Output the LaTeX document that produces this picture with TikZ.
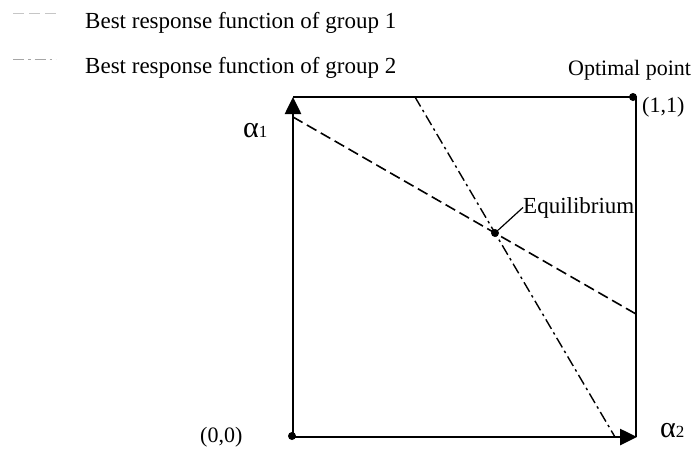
\documentclass[tikz,border=0pt]{standalone}
\usepackage{fontspec}
\setmainfont{Liberation Serif}
\usetikzlibrary{arrows.meta, positioning}

\begin{document}
\begin{tikzpicture}[x=1pt,y=-1pt,
  axis/.style={line width=2.6pt,-{Triangle[length=17pt,width=16pt]}},
  frame/.style={line width=1.4pt},
  brone/.style={line width=1.6pt,dash pattern=on 11pt off 5pt},
  brtwo/.style={line width=1.4pt,dash pattern=on 11pt off 4pt on 2.5pt off 4pt},
  dot/.style={circle,fill,inner sep=0pt,minimum size=8pt},
  lbl/.style={anchor=base west,inner sep=0pt,font=\fontsize{22}{24}\selectfont},
  greek/.style={anchor=base west,inner sep=0pt}]
  \useasboundingbox (0,0) rectangle (697,448);
  % legend
  \draw[brone,gray!45,line width=1pt] (13,13) -- (60,13);
  \draw[brtwo,gray!70,line width=1pt] (13,59) -- (56,59);
  \node[lbl,font=\fontsize{23}{25}\selectfont] (leg1) at (85,28) {Best response function of group 1};
  \node[lbl,font=\fontsize{23}{25}\selectfont] (leg2) at (85,73) {Best response function of group 2};
  % square and axes
  \coordinate (o) at (293,437);
  \coordinate (top) at (293,97);
  \coordinate (corner) at (636,97);
  \coordinate (bottom) at (636,437);
  \coordinate (right) at (637,437);
  \draw[frame] (top) -- (corner) -- (bottom);
  \draw[axis] (o) -- (top);
  \draw[axis] (o) -- (right);
  \node[dot] (origin) at (292,436) {};
  \node[dot] (opt) at (633,97) {};
  % best responses
  \coordinate (a1) at (293,117);
  \coordinate (a2) at (636,314);
  \coordinate (b1) at (415,97);
  \coordinate (b2) at (615,437);
  \draw[brone] (a1) -- (a2);
  \draw[brtwo] (b1) -- (b2);
  \node[dot] (eq) at (495,233) {};
  \node[lbl,font=\fontsize{23}{25}\selectfont] (eqlbl) at (523,213) {Equilibrium};
  \draw[line width=1.2pt] (eq) -- (eqlbl.west);
  % labels
  \node[lbl] (optlbl) at (568,75) {Optimal point};
  \node[lbl] (onelbl) at (642,112) {(1,1)};
  \node[lbl] (zerolbl) at (200,442) {(0,0)};
  \node[greek] (alpha1) at (243,137) {\fontsize{30}{32}\selectfont α\fontsize{17}{19}\selectfont 1};
  \node[greek] (alpha2) at (660,437) {\fontsize{30}{32}\selectfont α\fontsize{17}{19}\selectfont 2};
\end{tikzpicture}
\end{document}
